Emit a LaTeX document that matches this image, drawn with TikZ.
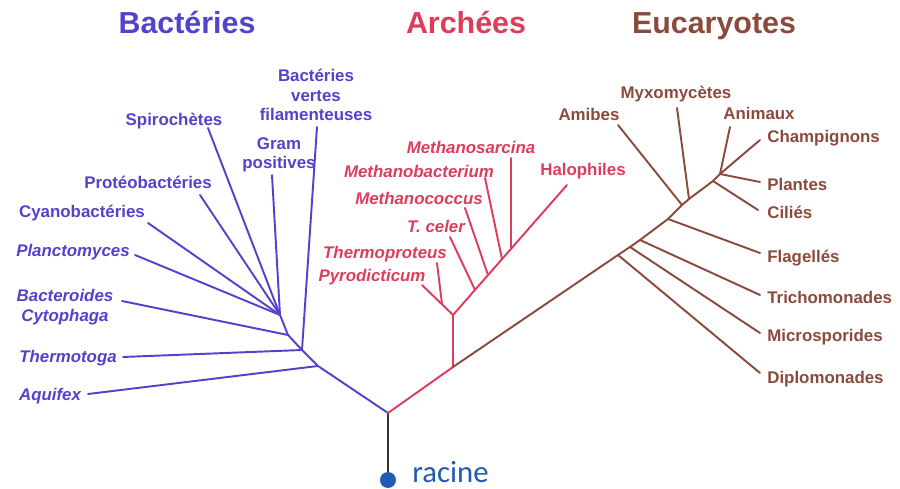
\documentclass[tikz,border=0pt]{standalone}
\usepackage{fontspec}
\setmainfont{Liberation Sans}
\newfontfamily\racinefont{Carlito}
\definecolor{bact}{HTML}{5242CC}
\definecolor{arch}{HTML}{DD3D5C}
\definecolor{euca}{HTML}{8A4B3C}
\definecolor{racinebleu}{HTML}{1F5BB0}
\tikzset{
  titre/.style={font=\fontsize{17.3}{20}\selectfont\bfseries, inner sep=0pt, anchor=base},
  lbl/.style={font=\fontsize{9.6}{11}\selectfont\bfseries, inner sep=0pt, align=center},
  ilbl/.style={lbl, font=\fontsize{9.6}{11}\selectfont\bfseries\itshape},
  branche/.style={line width=1.1pt, line cap=round, line join=round},
}
\begin{document}
\begin{tikzpicture}[x=0.02cm,y=-0.02cm]
    \useasboundingbox (0,0) rectangle (900,489);
    % titres
    \node [titre,text=bact] (tbact) at (187,34) {Bactéries};
    \node [titre,text=arch] (tarch) at (466,34) {Archées};
    \node [titre,text=euca] (teuca) at (714,34) {Eucaryotes};
    % racine
    \coordinate (r0) at (388,413);
    \node [circle,fill=racinebleu,inner sep=0pt,minimum size=0.32cm] (dot) at (388,480) {};
    \node [anchor=mid west,text=racinebleu,inner sep=0pt,font=\racinefont\fontsize{17.5}{20}\selectfont] (racine) at (412,478) {racine};
    \draw [line width=1.5pt,black!80] (dot.north) -- (r0);
    % bacteries
    \coordinate (b1) at (318,366);
    \coordinate (b2) at (302,350);
    \coordinate (b3) at (288,335);
    \coordinate (b4) at (280,315);
    \coordinate (tAquifex) at (88,394);
    \coordinate (tThermotoga) at (123,357);
    \coordinate (tVertes) at (317,127);
    \coordinate (tBactero) at (122,301);
    \coordinate (tPlancto) at (135,255);
    \coordinate (tCyano) at (148,223);
    \coordinate (tProteo) at (200,195);
    \coordinate (tSpiro) at (208,128);
    \coordinate (tGram) at (272,175);
    \node [lbl,text=bact] (lVertes) at (316,95) {Bactéries\\vertes\\filamenteuses};
    \node [lbl,text=bact,anchor=mid] (lSpiro) at (174,121) {Spirochètes};
    \node [lbl,text=bact] (lGram) at (279,155) {Gram\\positives};
    \node [lbl,text=bact,anchor=mid] (lProteo) at (148,184) {Protéobactéries};
    \node [lbl,text=bact,anchor=mid] (lCyano) at (82,213) {Cyanobactéries};
    \node [ilbl,text=bact,anchor=mid] (lPlancto) at (73,252) {Planctomyces};
    \node [ilbl,text=bact] (lBactero) at (65,307) {Bacteroides\\Cytophaga};
    \node [ilbl,text=bact,anchor=mid] (lThermotoga) at (68,358) {Thermotoga};
    \node [ilbl,text=bact,anchor=mid] (lAquifex) at (50,396) {Aquifex};
    \draw [branche,bact] (r0) -- (b1) -- (b2) -- (b3) -- (b4);
    \foreach \t/\j in {tAquifex/b1,tThermotoga/b2,tVertes/b2,tBactero/b3,tPlancto/b4,tCyano/b4,tProteo/b4,tSpiro/b4,tGram/b4}
        \draw [branche,bact] (\j) -- (\t);
    % archees
    \coordinate (a0) at (453,367);
    \coordinate (a1) at (453,315);
    \coordinate (a2) at (442,304);
    \coordinate (a3) at (475,290);
    \coordinate (a4) at (488,275);
    \coordinate (a5) at (502,259);
    \coordinate (a6) at (511,249);
    \coordinate (tPyro) at (422,285);
    \coordinate (tThermoproteus) at (437,263);
    \coordinate (tCeler) at (450,237);
    \coordinate (tMcoccus) at (465,208);
    \coordinate (tMbact) at (485,178);
    \coordinate (tMsarc) at (511,158);
    \coordinate (tHalo) at (567,185);
    \node [ilbl,text=arch,anchor=mid] (lMsarc) at (471,149) {Methanosarcina};
    \node [ilbl,text=arch,anchor=mid] (lMbact) at (419,173) {Methanobacterium};
    \node [ilbl,text=arch,anchor=mid] (lMcoccus) at (419,200) {Methanococcus};
    \node [ilbl,text=arch,anchor=mid] (lCeler) at (436,228) {T. celer};
    \node [ilbl,text=arch,anchor=mid] (lThermoproteus) at (385,254) {Thermoproteus};
    \node [ilbl,text=arch,anchor=mid] (lPyro) at (372,277) {Pyrodicticum};
    \node [lbl,text=arch,anchor=mid] (lHalo) at (583,171) {Halophiles};
    \draw [branche,arch] (r0) -- (a0) -- (a1) -- (tPyro);
    \draw [branche,arch] (a1) -- (tHalo);
    \foreach \t/\j in {tThermoproteus/a2,tCeler/a3,tMcoccus/a4,tMbact/a5,tMsarc/a6}
        \draw [branche,arch] (\j) -- (\t);
    % eucaryotes
    \coordinate (e1) at (618,255);
    \coordinate (e2) at (630,247);
    \coordinate (e3) at (640,240);
    \coordinate (e4) at (668,219);
    \coordinate (e5) at (682,205);
    \coordinate (e6) at (689,199);
    \coordinate (e7) at (713,181);
    \coordinate (e8) at (720,174);
    \coordinate (tDiplo) at (760,373);
    \coordinate (tMicro) at (760,333);
    \coordinate (tTricho) at (760,295);
    \coordinate (tFlag) at (760,253);
    \coordinate (tAmibes) at (618,125);
    \coordinate (tMyxo) at (677,108);
    \coordinate (tCilies) at (758,210);
    \coordinate (tAnimaux) at (730,127);
    \coordinate (tChamp) at (760,140);
    \coordinate (tPlantes) at (760,182);
    \node [lbl,text=euca,anchor=mid] (lAmibes) at (589,116) {Amibes};
    \node [lbl,text=euca,anchor=mid] (lMyxo) at (676,94) {Myxomycètes};
    \node [lbl,text=euca,anchor=mid] (lAnimaux) at (759,115) {Animaux};
    \node [lbl,text=euca,anchor=mid west] (lChamp) at (767,138) {Champignons};
    \node [lbl,text=euca,anchor=mid west] (lPlantes) at (767,186) {Plantes};
    \node [lbl,text=euca,anchor=mid west] (lCilies) at (767,214) {Ciliés};
    \node [lbl,text=euca,anchor=mid west] (lFlag) at (767,258) {Flagellés};
    \node [lbl,text=euca,anchor=mid west] (lTricho) at (767,299) {Trichomonades};
    \node [lbl,text=euca,anchor=mid west] (lMicro) at (767,337) {Microsporides};
    \node [lbl,text=euca,anchor=mid west] (lDiplo) at (767,379) {Diplomonades};
    \draw [branche,euca] (a0) -- (e1) -- (e2) -- (e3) -- (e4) -- (e5) -- (e6) -- (e7) -- (e8);
    \foreach \t/\j in {tDiplo/e1,tMicro/e2,tTricho/e3,tFlag/e4,tAmibes/e5,tMyxo/e6,tCilies/e7,tAnimaux/e8,tChamp/e8,tPlantes/e8}
        \draw [branche,euca] (\j) -- (\t);
\end{tikzpicture}
\end{document}
